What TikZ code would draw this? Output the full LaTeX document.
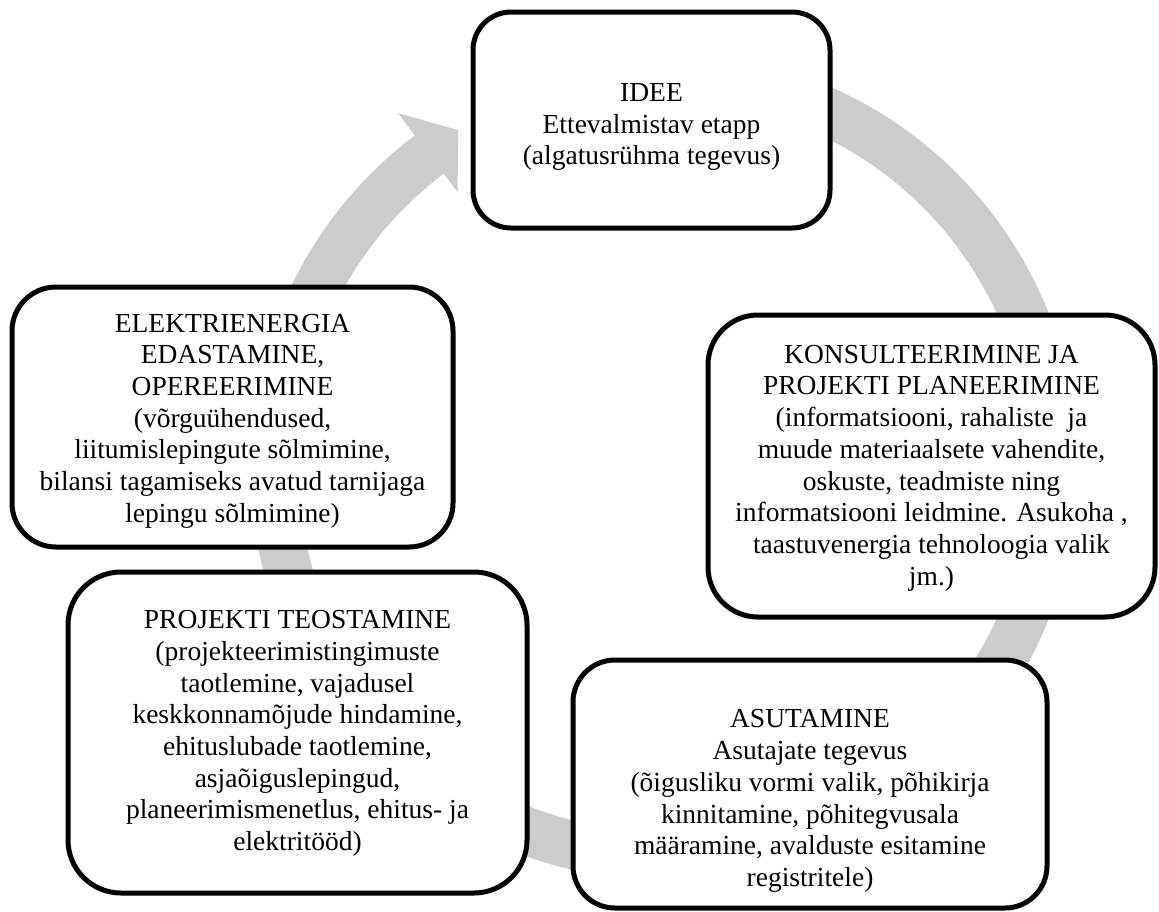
\documentclass[tikz,border=0pt]{standalone}
\usepackage{fontspec}
\setmainfont{Liberation Serif}
\usetikzlibrary{calc}
\tikzset{
  stagebox/.style={draw=black, line width=5pt, fill=white, inner sep=0pt},
  stagetext/.style={align=center, font=\fontsize{27.5}{31.7}\selectfont, inner sep=0pt},
  ringfill/.style={fill=black!20, draw=none}
}
\begin{document}
\begin{tikzpicture}[x=1pt,y=1pt]
\useasboundingbox (0,0) rectangle (1159,-911);
\coordinate (C) at (664,-466);
% circular gray arrow
\fill[ringfill] ($(C)+(75:414pt)$) arc[start angle=75, end angle=-233, radius=414pt]
  -- ($(C)+(127:442pt)$) -- ($(C)+(121.5:394pt)$) -- ($(C)+(127:343pt)$)
  -- ($(C)+(127:366pt)$) arc[start angle=-233, end angle=75, radius=366pt] -- cycle;
% stage boxes
\node[stagebox, rounded corners=38pt, minimum width=357pt, minimum height=216pt] (idee) at (651.5,-120) {};
\node[stagebox, rounded corners=50pt, minimum width=447pt, minimum height=302pt] (konsult) at (931.5,-466) {};
\node[stagebox, rounded corners=42pt, minimum width=474pt, minimum height=248pt] (asut) at (810,-784) {};
\node[stagebox, rounded corners=53pt, minimum width=459pt, minimum height=321pt] (proj) at (297.5,-732.5) {};
\node[stagebox, rounded corners=44pt, minimum width=441pt, minimum height=260pt] (elekt) at (232.5,-417) {};
% stage texts
\node[stagetext] (ideetext) at ([yshift=-7pt]idee.center)
  {IDEE\\Ettevalmistav etapp\\(algatusrühma tegevus)};
\node[stagetext] (konsulttext) at ([yshift=-2pt]konsult.center)
  {KONSULTEERIMINE JA\\PROJEKTI PLANEERIMINE\\(informatsiooni, rahaliste~ ja\\muude materiaalsete vahendite,\\oskuste, teadmiste ning\\informatsiooni leidmine. Asukoha ,\\taastuvenergia tehnoloogia valik\\jm.)};
\node[stagetext] (asuttext) at ([yshift=-17pt]asut.center)
  {ASUTAMINE\\Asutajate tegevus\\(õigusliku vormi valik, põhikirja\\kinnitamine, põhitegvusala\\määramine, avalduste esitamine\\registritele)};
\node[stagetext] (projtext) at ([yshift=-1pt]proj.center)
  {PROJEKTI TEOSTAMINE\\(projekteerimistingimuste\\taotlemine, vajadusel\\keskkonnamõjude hindamine,\\ehituslubade taotlemine,\\asjaõiguslepingud,\\planeerimismenetlus, ehitus- ja\\elektritööd)};
\node[stagetext] (elekttext) at ([yshift=-4pt]elekt.center)
  {ELEKTRIENERGIA\\EDASTAMINE,\\OPEREERIMINE\\(võrguühendused,\\liitumislepingute sõlmimine,\\bilansi tagamiseks avatud tarnijaga\\lepingu sõlmimine)};
\end{tikzpicture}
\end{document}
